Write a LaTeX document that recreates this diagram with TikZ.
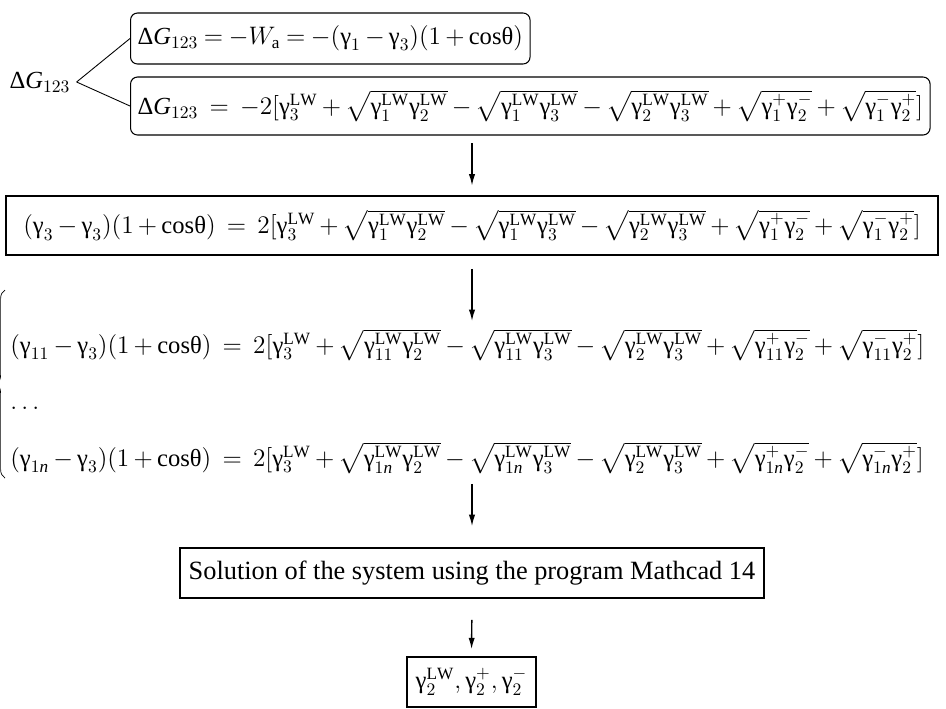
\documentclass[tikz,border=0pt]{standalone}
\usepackage{amsmath}
\usepackage{fontspec}
\setmainfont{Liberation Serif}
\usetikzlibrary{arrows.meta,positioning,calc,decorations.pathreplacing}
\newcommand{\gm}{\text{γ}}
\newcommand{\tht}{\text{θ}}
\newcommand{\LW}{\mathrm{LW}}
\newcommand{\DG}{\text{Δ}\mathit{G}_{123}}
% right-hand side of the wetting equation, #1 = index of the test liquid
\newcommand{\rhs}[1]{[\gm_3^{\LW} + \sqrt{\gm_{#1}^{\LW}\gm_2^{\LW}} - \sqrt{\gm_{#1}^{\LW}\gm_3^{\LW}} - \sqrt{\gm_2^{\LW}\gm_3^{\LW}} + \sqrt{\gm_{#1}^{+}\gm_2^{-}} + \sqrt{\gm_{#1}^{-}\gm_2^{+}}]}
\medmuskip=3mu plus 2mu minus 3mu
\thickmuskip=4mu plus 2mu

\begin{document}
\begin{tikzpicture}[x=0.02cm, y=-0.02cm,
  font=\fontsize{14}{17}\selectfont, >={Latex[length=6.5pt,width=3.6pt]},
  rbox/.style={draw, line width=0.6pt, rounded corners=4pt, inner xsep=4pt, inner ysep=3pt, anchor=west},
  sbox/.style={draw, line width=0.9pt, inner xsep=5pt, inner ysep=3pt},
  eqn/.style={anchor=west, inner sep=0pt},
  arr/.style={->, line width=0.8pt}]
\useasboundingbox (0,0) rectangle (946,708);
\node (dg) at (40,82) {$\DG$};
\node[rbox, minimum height=1.02cm] (wa) at (130,38.5) {$\DG = -W_{\mathrm{a}} = -(\gm_1 - \gm_3)(1 + \cos\!\tht)$};
\node[rbox, minimum height=1.16cm] (lw) at (130,106) {$\DG \;=\; -2\rhs{1}$};
\draw[line width=0.5pt] (dg.east) -- (wa.west);
\draw[line width=0.5pt] (dg.east) -- (lw.west);
\node[sbox, minimum height=1.18cm, minimum width=18.64cm] (bx) at (472,225.5) {$(\gm_3 - \gm_3)(1 + \cos\!\tht) \;=\; 2\rhs{1}$};
\node[eqn] (eq1) at (10,345) {$(\gm_{11} - \gm_3)(1 + \cos\!\tht) \;=\; 2\rhs{11}$};
\node[eqn] (dots) at (10,408) {$\ldots$};
\node[eqn] (eqn) at (10,458) {$(\gm_{1\mathit{n}} - \gm_3)(1 + \cos\!\tht) \;=\; 2\rhs{1\mathit{n}}$};
\draw[line width=0.4pt, decorate, decoration={brace, amplitude=5pt}] (5,478) -- (5,290);
\node[sbox, minimum height=1.0cm, font=\fontsize{15}{18}\selectfont] (sol) at (472,573) {Solution of the system using the program Mathcad 14};
\node[sbox, minimum height=1.0cm] (res) at (471.5,682) {$\gm_2^{\LW}, \gm_2^{+}, \gm_2^{-}$};
\draw[arr, shorten <=4.5pt, shorten >=5.5pt] (bx.north |- lw.south) -- (bx.north);
\draw[arr, shorten <=7.4pt, shorten >=4.5pt] (bx.south) -- (bx.south |- eq1.north);
\draw[arr, shorten <=5.5pt, shorten >=12pt] (eqn.south -| sol.north) -- (sol.north);
\draw[arr, shorten <=12pt, shorten >=4pt] (sol.south) -- (res.north);
\end{tikzpicture}
\end{document}
